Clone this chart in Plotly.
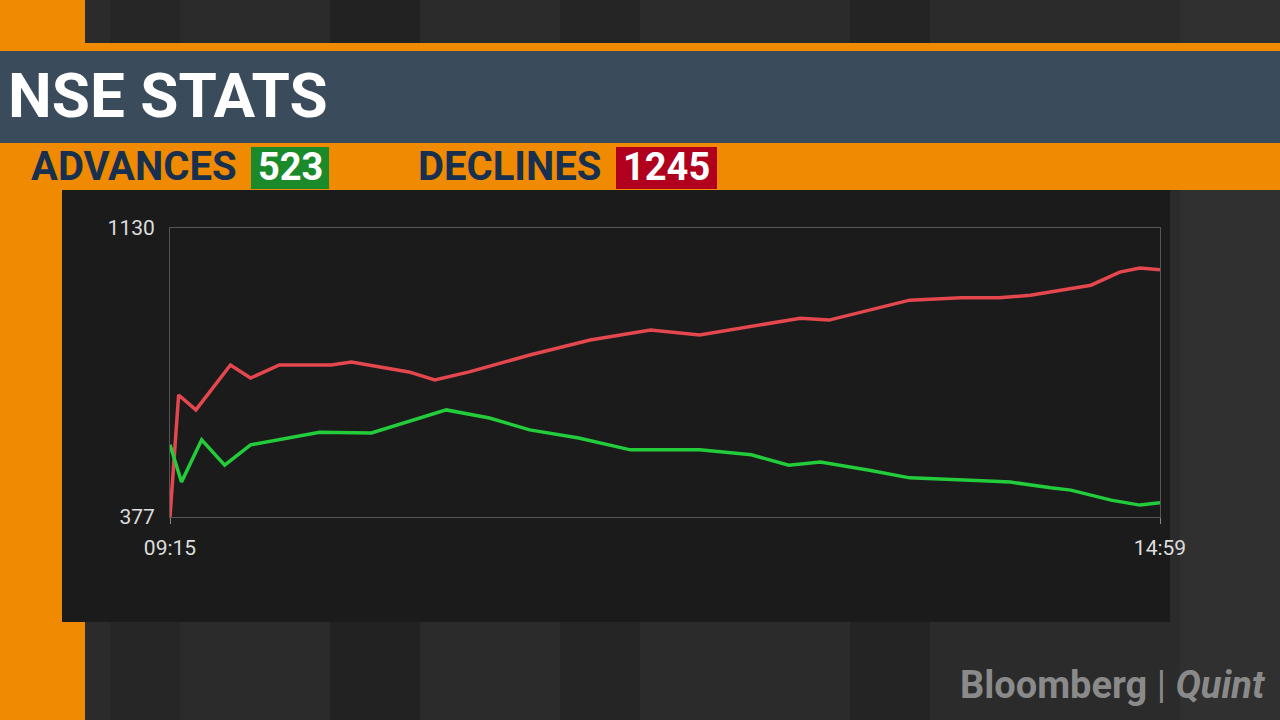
import plotly.graph_objects as go

# minutes after 09:15 and breadth counts
red_min = [0, 3, 9, 21, 28, 38, 56, 63, 83, 92, 104, 125, 146, 167, 184, 205, 219, 229, 243, 257, 275, 288, 299, 309, 320, 330, 337, 344]
red_val = [377, 695, 656, 773, 739, 773, 773, 781, 755, 734, 755, 799, 838, 864, 851, 877, 895, 890, 916, 942, 948, 948, 955, 968, 981, 1015, 1026, 1021]
green_min = [0, 4, 11, 19, 28, 38, 52, 70, 83, 96, 111, 125, 142, 160, 184, 202, 215, 226, 243, 257, 278, 292, 306, 313, 327, 337, 344]
green_val = [565, 468, 578, 512, 565, 578, 598, 596, 625, 656, 635, 604, 583, 552, 552, 539, 512, 520, 499, 479, 473, 468, 453, 447, 421, 408, 414]
y_ticks = [377, 1130]
x_ticks = [0, 344]
x_labels = ["09:15", "14:59"]
advances, declines = "523", "1245"

W, H = 1280, 720
L, R, T, B = 170, 1160, 228, 517


def px(x):
    return (x - L) / (R - L)


def py(y):
    return (B - y) / (B - T)


def rect(x0, y0, x1, y1, color):
    return dict(type="rect", xref="paper", yref="paper", x0=px(x0), x1=px(x1),
                y0=py(y1), y1=py(y0), fillcolor=color, line_width=0, layer="below")


shapes = [rect(0, 0, W, H, "#2b2b2b")]
for x0, x1, c in [(110, 180, "#262626"), (330, 420, "#222222"), (560, 640, "#252525"),
                  (850, 930, "#242424"), (1180, 1280, "#303030")]:
    shapes.append(rect(x0, 0, x1, H, c))
shapes += [
    rect(0, 0, 85, H, "#f08a00"),
    rect(62, 190, 1170, 622, "#1b1b1b"),
    rect(0, 43, W, 51, "#f08a00"),
    rect(0, 51, W, 143, "#3a4b5c"),
    rect(0, 143, W, 190, "#f08a00"),
    rect(251, 147, 329, 189, "#1a8a2a"),
    rect(616, 147, 717, 189, "#b0001e"),
]

fig = go.Figure()
fig.add_trace(go.Scatter(x=red_min, y=red_val, mode="lines", line=dict(color="#e4474d", width=3.5)))
fig.add_trace(go.Scatter(x=green_min, y=green_val, mode="lines", line=dict(color="#22cc3a", width=3.5)))

font = "Roboto"
ann = [
    dict(x=px(6), y=py(95), text="<b>NSE STATS</b>", font=dict(size=62, color="white", family=font), xanchor="left"),
    dict(x=px(29), y=py(166), text="<b>ADVANCES</b>", font=dict(size=40, color="#17304f", family=font), xanchor="left"),
    dict(x=px(290), y=py(167), text="<b>" + advances + "</b>", font=dict(size=38, color="white", family=font), xanchor="center"),
    dict(x=px(416), y=py(166), text="<b>DECLINES</b>", font=dict(size=40, color="#17304f", family=font), xanchor="left"),
    dict(x=px(666), y=py(167), text="<b>" + declines + "</b>", font=dict(size=38, color="white", family=font), xanchor="center"),
    dict(x=px(1268), y=py(685), text="<b>Bloomberg</b> | <i><b>Quint</b></i>", font=dict(size=38, color="#8a8a8a", family=font), xanchor="right"),
]
for a in ann:
    a.update(xref="paper", yref="paper", showarrow=False, yanchor="middle")

fig.update_layout(
    width=W, height=H, margin=dict(l=L, r=W - R, t=T, b=H - B),
    paper_bgcolor="#2b2b2b", plot_bgcolor="#1b1b1b", showlegend=False,
    shapes=shapes, annotations=ann,
    xaxis=dict(range=[0, 344], tickvals=x_ticks, ticktext=x_labels, showgrid=False, zeroline=False,
               showline=True, linecolor="#555", mirror=True, tickfont=dict(size=21, color="#ddd", family=font),
               ticks="outside", ticklen=6, tickcolor="#888", ticklabelstandoff=6),
    yaxis=dict(range=[377, 1130], tickvals=y_ticks, showgrid=False, zeroline=False,
               showline=True, linecolor="#555", mirror=True, tickfont=dict(size=21, color="#ddd", family=font),
               ticklabelstandoff=10),
)
fig.write_html("out.html", config={"displayModeBar": False},
               post_script="document.body.style.margin='0';")
